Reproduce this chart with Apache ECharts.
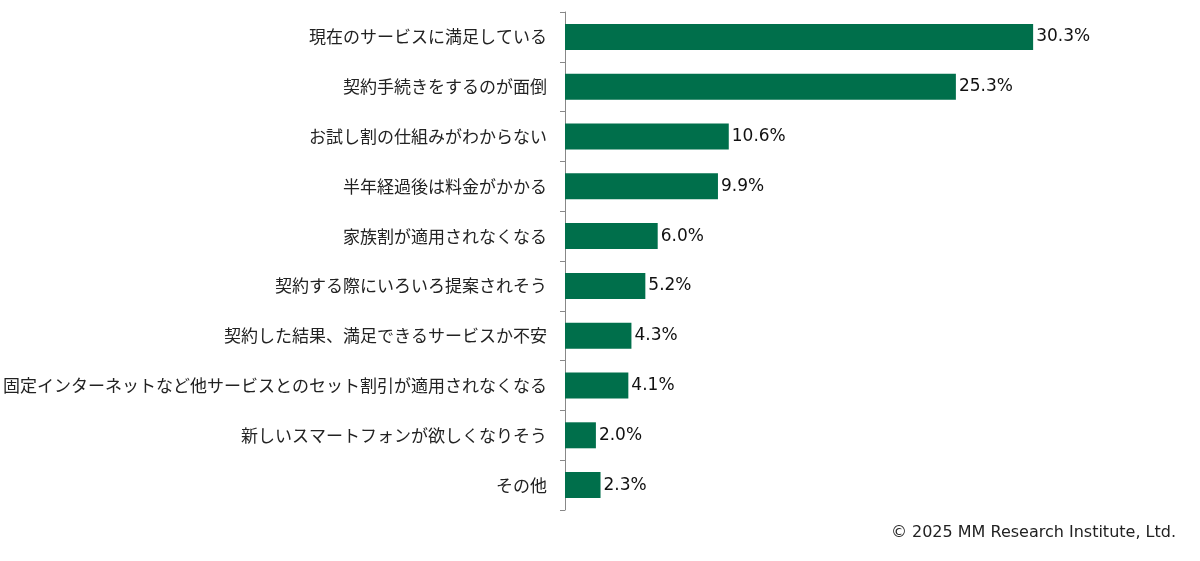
<!DOCTYPE html>
<html><head><meta charset="utf-8">
<script src="https://cdn.jsdelivr.net/npm/echarts@6/dist/echarts.min.js"></script>
<style>html,body{margin:0;padding:0;background:#fff}#c{width:1200px;height:561px}</style>
</head><body><div id="c"></div>
<script>
const categories = ["現在のサービスに満足している","契約手続きをするのが面倒","お試し割の仕組みがわからない","半年経過後は料金がかかる","家族割が適用されなくなる","契約する際にいろいろ提案されそう","契約した結果、満足できるサービスか不安","固定インターネットなど他サービスとのセット割引が適用されなくなる","新しいスマートフォンが欲しくなりそう","その他"];
const values = [30.3,25.3,10.6,9.9,6.0,5.2,4.3,4.1,2.0,2.3];
const chart = echarts.init(document.getElementById('c'));
const font = '"Noto Sans CJK JP","Noto Sans",sans-serif';
const latin = '"DejaVu Sans",sans-serif';
chart.setOption({
  animation:false,
  grid:{left:549,right:17,top:12,bottom:51,containLabel:false},
  xAxis:{type:'value',min:0,max:40,show:false},
  yAxis:{type:'category',inverse:true,data:categories,
    axisLine:{lineStyle:{color:'#888',width:1}},
    axisTick:{show:true,length:5,lineStyle:{color:'#888'}},
    axisLabel:{color:'#222',fontSize:17,fontFamily:font,margin:18}},
  series:[{type:'bar',data:values,barWidth:26,itemStyle:{color:'#006F4B'},
    label:{show:true,position:'right',distance:3,color:'#111',fontSize:17,fontFamily:latin,formatter:p=>p.value.toFixed(1)+'%'}}],
  graphic:[{type:'text',right:24,top:525,style:{text:'© 2025 MM Research Institute, Ltd.',fontSize:16,fill:'#222',fontFamily:latin}}]
});
</script></body></html>
